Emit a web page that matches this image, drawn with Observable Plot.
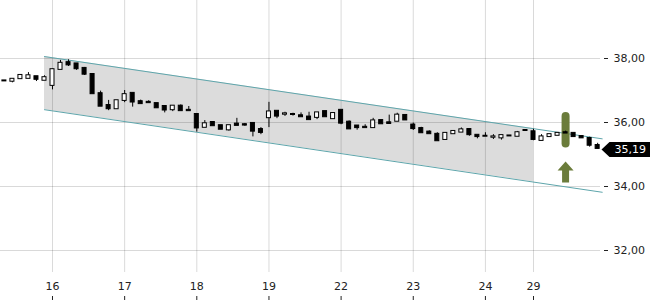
<!DOCTYPE html>
<html><head><meta charset="utf-8">
<script src="https://cdn.jsdelivr.net/npm/d3@7"></script>
<script src="https://cdn.jsdelivr.net/npm/@observablehq/plot@0.6"></script>
<style>html,body{margin:0;padding:0;background:#fff;} svg{display:block;}</style>
</head><body><div id="chart"></div>
<script>
// Hourly candles, index 0..74
const opens  = [37.30,37.29,37.37,37.38,37.43,37.32,37.16,37.66,37.87,37.83,37.69,37.50,36.90,36.53,36.43,36.69,36.91,36.65,36.63,36.59,36.50,36.40,36.51,36.38,36.25,35.85,36.00,35.90,35.77,35.95,35.93,35.97,35.78,36.15,36.35,36.26,36.25,36.21,36.17,36.16,36.34,36.12,36.38,36.01,35.89,35.85,35.84,36.06,35.99,36.04,36.22,35.92,35.81,35.70,35.63,35.47,35.65,35.70,35.78,35.60,35.57,35.54,35.52,35.58,35.57,35.75,35.71,35.44,35.56,35.60,35.68,35.66,35.56,35.50,35.28];
const highs  = [37.30,37.35,37.49,37.56,37.43,37.46,37.67,37.94,37.96,37.83,37.72,37.50,36.98,36.69,36.68,37.00,36.91,36.70,36.68,36.59,36.50,36.51,36.55,36.50,36.25,36.06,36.03,35.90,35.90,36.13,35.97,35.97,35.84,36.63,36.35,36.32,36.29,36.30,36.32,36.30,36.35,36.28,36.38,36.05,35.89,35.93,36.13,36.06,36.23,36.29,36.22,35.98,35.85,35.74,35.68,35.66,35.72,35.83,35.78,35.60,35.68,35.62,35.59,35.58,35.72,35.75,35.79,35.62,35.62,35.66,35.73,35.66,35.58,35.54,35.35];
const lows   = [37.30,37.24,37.37,37.38,37.28,37.32,37.02,37.66,37.75,37.63,37.47,36.90,36.51,36.37,36.43,36.62,36.48,36.59,36.62,36.46,36.30,36.34,36.37,36.37,35.70,35.85,35.90,35.79,35.73,35.91,35.88,35.55,35.62,35.84,36.12,36.19,36.20,36.18,36.09,36.09,36.18,36.12,35.93,35.80,35.76,35.84,35.84,35.96,35.97,36.04,36.08,35.75,35.68,35.65,35.43,35.47,35.65,35.70,35.57,35.49,35.57,35.47,35.45,35.58,35.57,35.75,35.43,35.44,35.56,35.60,35.67,35.56,35.52,35.23,35.18];
const closes = [37.30,37.35,37.47,37.46,37.35,37.40,37.65,37.85,37.80,37.68,37.51,36.90,36.51,36.43,36.68,36.87,36.64,36.59,36.62,36.46,36.39,36.51,36.37,36.37,35.83,35.96,35.90,35.79,35.90,35.91,35.92,35.73,35.69,36.33,36.20,36.27,36.25,36.18,36.09,36.30,36.18,36.28,35.98,35.80,35.84,35.84,36.05,35.96,35.97,36.23,36.08,35.81,35.68,35.65,35.43,35.66,35.72,35.77,35.62,35.56,35.57,35.55,35.59,35.58,35.68,35.75,35.47,35.55,35.62,35.66,35.67,35.56,35.52,35.29,35.19];

// Day ticks (candle index where each day starts) and labels
const dayTickIndex = [6, 15, 24, 33, 42, 51, 60, 66];
const dayLabels = ["16", "17", "18", "19", "22", "23", "24", "29"];
const priceTicks = [32, 34, 36, 38];

// Trend channel
const channelIndex = [5, 74.57];
const channelUpper = [38.06, 35.49];
const channelLower = [36.40, 33.82];
const shadeIndex = [5, 66];
const shadeUpper = [38.06, 35.81];
const shadeLower = [36.40, 34.14];

// Signal marker
const signalIndex = [70];
const signalTop = [36.19];
const signalBottom = [35.33];
const signalArrow = [34.45];

const lastPrice = [35.19];

const candles = opens.map((o, i) => ({i, open: o, high: highs[i], low: lows[i], close: closes[i]}));
const channel = channelIndex.map((x, k) => ({x, upper: channelUpper[k], lower: channelLower[k]}));
const shade = shadeIndex.map((x, k) => ({x, upper: shadeUpper[k], lower: shadeLower[k]}));
const signal = signalIndex.map((x, k) => ({x, top: signalTop[k], bottom: signalBottom[k], arrow: signalArrow[k]}));
const dayLabelMap = new Map(dayTickIndex.map((x, k) => [x, dayLabels[k]]));
const fmt = v => d3.format(".2f")(v).replace(".", ",");

const arrowSymbol = {draw(ctx) {
  ctx.moveTo(0, -10.5); ctx.lineTo(8, -1.5); ctx.lineTo(3.5, -1.5); ctx.lineTo(3.5, 10.5);
  ctx.lineTo(-3.5, 10.5); ctx.lineTo(-3.5, -1.5); ctx.lineTo(-8, -1.5); ctx.closePath();
}};
const tagSymbol = {draw(ctx) {
  ctx.moveTo(-2, 0); ctx.lineTo(6, -7.5); ctx.lineTo(47, -7.5); ctx.lineTo(47, 7.5); ctx.lineTo(6, 7.5); ctx.closePath();
}};

const up = candles.filter(d => d.close >= d.open);
const down = candles.filter(d => d.close < d.open);
const green = "#6b7c3b";

const chart = Plot.plot({
  width: 650, height: 300,
  marginTop: 0, marginLeft: 0, marginRight: 47, marginBottom: 28,
  style: {fontFamily: "DejaVu Sans, sans-serif", fontSize: "11px", color: "#222", background: "#fff", overflow: "visible"},
  x: {type: "linear", domain: [-0.486, 74.73], axis: null},
  y: {domain: [31.3125, 39.8125], axis: null},
  marks: [
    Plot.areaY(shade, {x: "x", y1: "lower", y2: "upper", fill: "#dcdcdc"}),
    Plot.gridX(dayTickIndex, {stroke: "#000", strokeOpacity: 0.15}),
    Plot.gridY(priceTicks, {stroke: "#000", strokeOpacity: 0.15, insetRight: 3}),
    Plot.axisY(priceTicks, {anchor: "right", tickSize: 4, tickPadding: 6, tickFormat: fmt, color: "#222", fontSize: 11}),
    Plot.axisX(dayTickIndex, {anchor: "bottom", tickSize: 0, tickPadding: 10, tickFormat: d => dayLabelMap.get(d), color: "#222", fontSize: 11}),
    Plot.axisX(dayTickIndex, {anchor: "bottom", tickSize: 5, tickFormat: () => "", dy: 24, color: "#222"}),
    Plot.line(channel, {x: "x", y: "upper", stroke: "#5ea5ab", strokeWidth: 1}),
    Plot.line(channel, {x: "x", y: "lower", stroke: "#5ea5ab", strokeWidth: 1}),
    Plot.ruleX(signal, {x: "x", y1: "bottom", y2: "top", stroke: green, strokeWidth: 8, strokeLinecap: "round"}),
    Plot.dot(signal, {x: "x", y: "arrow", symbol: arrowSymbol, r: 5, fill: green, stroke: "none"}),
    Plot.ruleX(candles, {x: "i", y1: "low", y2: "high", stroke: "#000", strokeWidth: 1}),
    Plot.rect(up, {x1: d => d.i - 0.25, x2: d => d.i + 0.25, y1: "open", y2: "close", insetTop: -0.5, insetBottom: -0.5, fill: "#fff", stroke: "#000", strokeWidth: 1}),
    Plot.rect(down, {x1: d => d.i - 0.25, x2: d => d.i + 0.25, y1: "open", y2: "close", insetTop: -0.5, insetBottom: -0.5, fill: "#000", stroke: "#000", strokeWidth: 1}),
    Plot.dot(lastPrice, {y: d => d, frameAnchor: "right", symbol: tagSymbol, r: 5, fill: "#000", stroke: "none", dy: 1}),
    Plot.text(lastPrice, {y: d => d, frameAnchor: "right", dx: 11, dy: 1, text: d => fmt(d), textAnchor: "start", fill: "#fff", fontSize: 11})
  ]
});
document.getElementById("chart").append(chart);
</script>
</body></html>
